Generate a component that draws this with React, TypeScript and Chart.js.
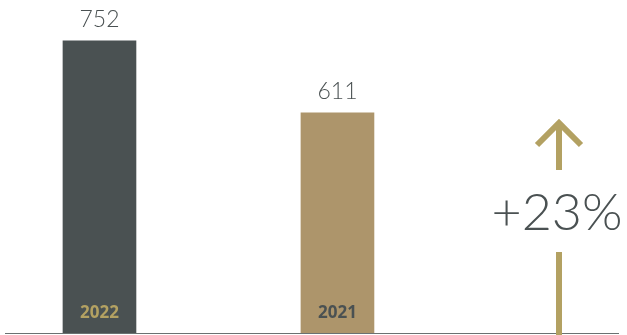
import React, { useEffect, useRef } from "react";
import { Chart, registerables } from "chart.js";

Chart.register(...registerables);

const categories = ["2022", "2021"];
const values = [752, 611];
const barColors = ["#4a5152", "#ad956b"];
const categoryTextColors = ["#b3a162", "#4a5152"];
const GOLD = "#b3a162";
const DARK = "#4a5152";

const overlay = {
  id: "overlay",
  beforeDatasetsDraw(chart: any) {
    const ctx = chart.ctx;
    const { left, right, bottom } = chart.chartArea;
    ctx.save();
    ctx.strokeStyle = "#6a7171";
    ctx.lineWidth = 1;
    ctx.beginPath();
    ctx.moveTo(left, bottom + 0.5);
    ctx.lineTo(right, bottom + 0.5);
    ctx.stroke();
    ctx.restore();
  },
  afterDatasetsDraw(chart: any) {
    const ctx = chart.ctx;
    const meta = chart.getDatasetMeta(0);
    ctx.save();
    meta.data.forEach((bar: any, i: number) => {
      ctx.textAlign = "center";
      ctx.textBaseline = "alphabetic";
      ctx.fillStyle = DARK;
      ctx.font = "300 23px Lato";
      ctx.fillText(String(values[i]), bar.x, bar.y - 14);
      ctx.fillStyle = categoryTextColors[i];
      ctx.font = "bold 17px 'Open Sans'";
      ctx.fillText(categories[i], bar.x, 318);
    });
    // growth annotation
    const pct = Math.round((values[0] / values[1] - 1) * 100);
    const ax = 559;
    ctx.strokeStyle = GOLD;
    ctx.lineWidth = 6;
    ctx.lineCap = "butt";
    ctx.beginPath();
    ctx.moveTo(ax, 170);
    ctx.lineTo(ax, 124);
    ctx.stroke();
    ctx.beginPath();
    ctx.moveTo(ax - 22, 145);
    ctx.lineTo(ax, 123);
    ctx.lineTo(ax + 22, 145);
    ctx.stroke();
    ctx.beginPath();
    ctx.moveTo(ax, 252);
    ctx.lineTo(ax, 335);
    ctx.stroke();
    ctx.fillStyle = DARK;
    ctx.font = "300 52px Lato";
    ctx.textAlign = "center";
    ctx.fillText("+" + pct + "%", 557, 230);
    ctx.restore();
  },
};

export default function App() {
  const ref = useRef<HTMLCanvasElement | null>(null);
  useEffect(() => {
    document.body.style.margin = "0";
    const chart = new Chart(ref.current as HTMLCanvasElement, {
      type: "bar",
      data: {
        datasets: [
          {
            data: values.map((v, i) => ({ x: i, y: v })),
            backgroundColor: barColors,
            barThickness: 73,
          },
        ],
      },
      options: {
        animation: false,
        responsive: false,
        layout: { padding: { left: 5, right: 8, top: 0, bottom: 2 } },
        plugins: { legend: { display: false }, tooltip: { enabled: false } },
        scales: {
          x: {
            type: "linear",
            display: false,
            offset: false,
            min: -0.397,
            max: 2.183,
          },
          y: { display: false, min: 180, max: 832 },
        },
      },
      plugins: [overlay],
    });
    return () => chart.destroy();
  }, []);
  return (
    <div style={{ width: 627, height: 335 }}>
      <canvas ref={ref} width={627} height={335} />
    </div>
  );
}
